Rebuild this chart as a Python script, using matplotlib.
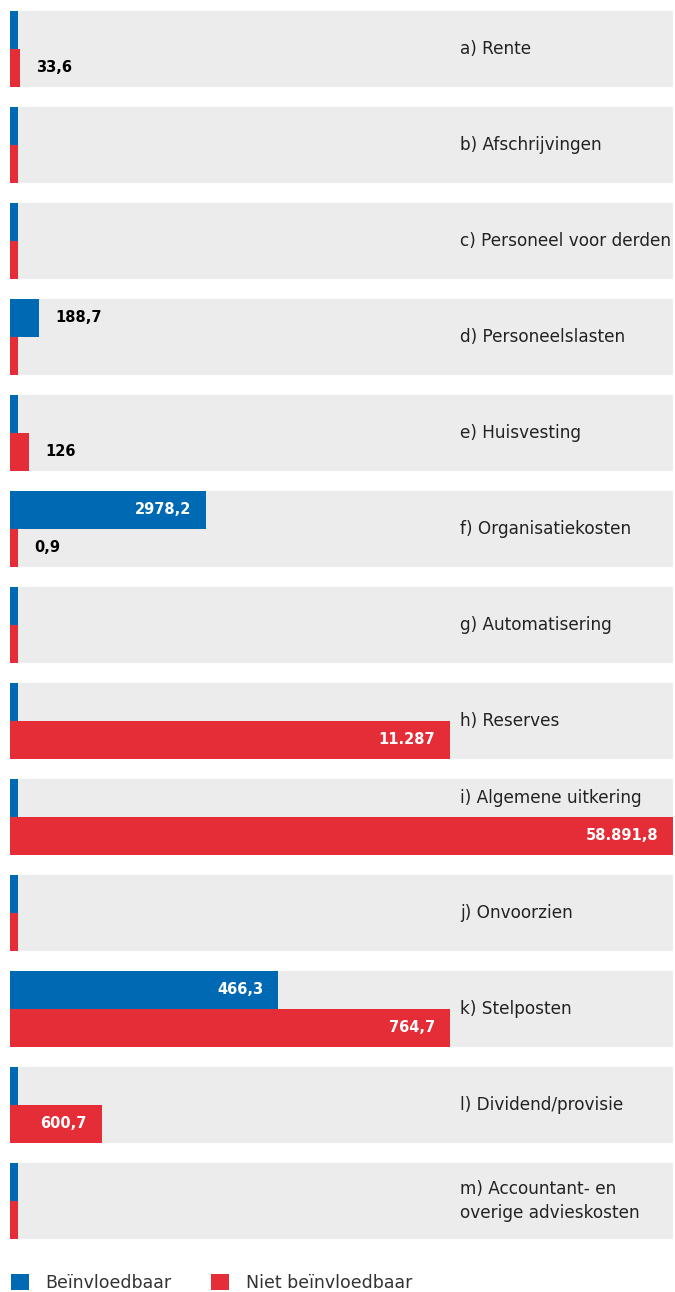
import matplotlib
matplotlib.use("Agg")
import matplotlib.pyplot as plt
from matplotlib.patches import Patch
from matplotlib.transforms import blended_transform_factory

# Kostensoorten en bedragen per soort
categories = [
    "a) Rente",
    "b) Afschrijvingen",
    "c) Personeel voor derden",
    "d) Personeelslasten",
    "e) Huisvesting",
    "f) Organisatiekosten",
    "g) Automatisering",
    "h) Reserves",
    "i) Algemene uitkering",
    "j) Onvoorzien",
    "k) Stelposten",
    "l) Dividend/provisie",
    "m) Accountant- en\noverige advieskosten",
]
beinvloedbaar = [0, 0, 0, 188.7, 0, 2978.2, 0, 0, 0, 0, 466.3, 0, 0]
niet_beinvloedbaar = [33.6, 0, 0, 0, 126, 0.9, 0, 11287, 58891.8, 0, 764.7, 600.7, 0]

# Elke rij heeft een eigen schaal (maximum van de x-as)
row_max = [2230, 1, 1, 4314, 4397, 10074, 1, 17007, 58891.8, 1, 1152, 4329, 1]

BLUE = "#0069b4"
RED = "#e52d37"
GRAY = "#ececec"
TEXT = "#222222"

W, H = 675, 1292
LEFT, BAND_W = 10, 663
TOP0, STEP, BAND_H = 11, 96, 76
STUB_PX = 8
LABEL_PX = 460

plt.rcParams["font.family"] = ["DejaVu Sans"]


def nl_format(v):
    # punt als duizendtalscheiding pas vanaf 10.000, komma als decimaalteken
    whole = int(abs(v))
    s = str(whole)
    if whole >= 10000:
        s = f"{whole:,}".replace(",", ".")
    if not float(v).is_integer():
        s += "," + f"{v:.1f}".split(".")[1]
    return s


fig = plt.figure(figsize=(W / 100, H / 100), dpi=100)

for i, cat in enumerate(categories):
    top = TOP0 + STEP * i
    ax = fig.add_axes([LEFT / W, 1 - (top + BAND_H) / H, BAND_W / W, BAND_H / H])
    ax.set_facecolor(GRAY)
    for sp in ax.spines.values():
        sp.set_visible(False)
    ax.set_xticks([])
    ax.set_yticks([])

    xmax = row_max[i]
    ax.set_xlim(0, xmax)
    ax.set_ylim(-0.5, 1.5)
    stub = xmax * STUB_PX / BAND_W

    for y, val, col in [(1, beinvloedbaar[i], BLUE), (0, niet_beinvloedbaar[i], RED)]:
        # korte markering aan het begin, ook bij nul
        ax.barh(y, stub, height=1, color=col, linewidth=0)
        ax.barh(y, val, height=1, color=col, linewidth=0)
        if val == 0:
            continue
        px = val / xmax * BAND_W
        if px > 70:
            ax.annotate(nl_format(val), (val, y), xytext=(-15, 0),
                        textcoords="offset pixels", ha="right", va="center",
                        color="white", fontsize=10.5, fontweight="bold")
        else:
            ax.annotate(nl_format(val), (max(val, stub), y), xytext=(16, 0),
                        textcoords="offset pixels", ha="left", va="center",
                        color="black", fontsize=10.5, fontweight="bold")

    # label naar de bovenste helft als de rode balk eronder doorloopt
    red_px = niet_beinvloedbaar[i] / xmax * BAND_W
    label_y = 1 if red_px > LABEL_PX - LEFT else 0.5
    trans = blended_transform_factory(ax.transAxes, ax.transData)
    ax.text((LABEL_PX - LEFT) / BAND_W, label_y, cat, transform=trans,
            ha="left", va="center", fontsize=12.2, color=TEXT, linespacing=1.45)

handles = [Patch(facecolor=BLUE, label="Beïnvloedbaar"),
           Patch(facecolor=RED, label="Niet beïnvloedbaar")]
fig.legend(handles=handles, loc="upper left", bbox_to_anchor=(11 / W, 1 - 1274 / H),
           ncol=2, frameon=False, handlelength=1.05, handleheight=1.05,
           handletextpad=0.95, columnspacing=2.25, borderpad=0, borderaxespad=0,
           fontsize=12.5, labelcolor="#333333")

fig.savefig("out.png", dpi=100, facecolor="white")
